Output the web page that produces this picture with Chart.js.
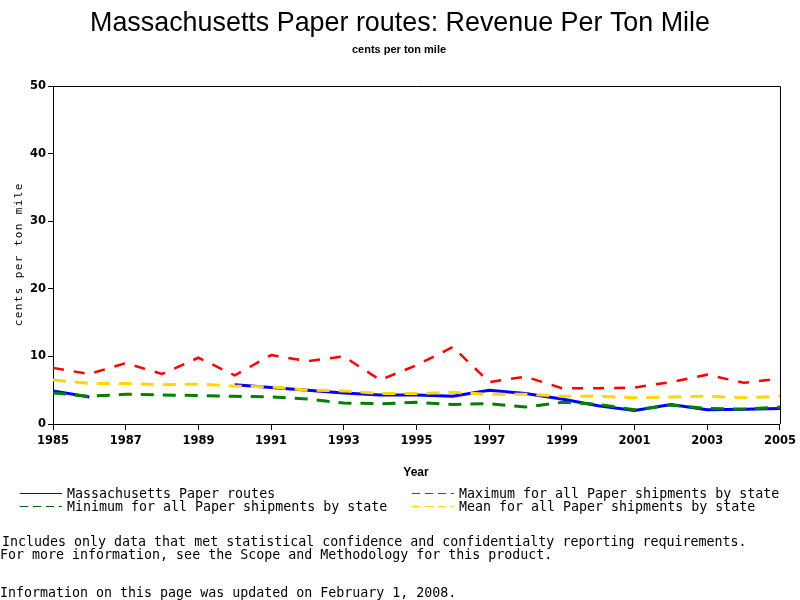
<!DOCTYPE html>
<html><head><meta charset="utf-8">
<script src="https://cdn.jsdelivr.net/npm/chart.js@4/dist/chart.umd.min.js"></script>
<style>html,body{margin:0;padding:0;background:#fff;}#wrap{width:800px;height:600px;position:relative;}</style>
</head><body><div id="wrap"><canvas id="c" width="800" height="600"></canvas></div>
<script>
const years = ['1985','1986','1987','1988','1989','1990','1991','1992','1993','1994','1995','1996','1997','1998','1999','2000','2001','2002','2003','2004','2005'];
const maRoutes = [4.9,4.0,null,null,null,5.8,5.4,5.0,4.6,4.3,4.3,4.1,5.0,4.5,3.7,2.7,2.0,2.9,2.1,2.2,2.3];
const maxState = [8.3,7.4,9.0,7.4,9.8,7.2,10.2,9.3,10.0,6.5,8.7,11.4,6.2,7.0,5.3,5.3,5.4,6.2,7.3,6.1,6.7];
const minState = [4.6,4.1,4.4,4.3,4.2,4.1,4.0,3.7,3.1,3.0,3.2,2.9,3.0,2.5,3.2,2.9,2.1,2.8,2.3,2.2,2.5];
const meanState = [6.5,6.0,6.0,5.8,5.9,5.6,5.5,5.0,4.9,4.5,4.5,4.7,4.4,4.4,4.1,4.1,3.9,4.0,4.1,3.9,4.1];
const yTicks = [0,10,20,30,40,50];

const mono = '"DejaVu Sans Mono", "Liberation Mono", monospace';
const tickFont = {family: '"DejaVu Sans", sans-serif', size: 11.5, weight: 'bold'};

const textPlugin = {
  id: 'texts',
  afterDraw(chart) {
    const ctx = chart.ctx;
    const a = chart.chartArea;
    ctx.save();
    ctx.strokeStyle = '#000'; ctx.lineWidth = 1;
    ctx.beginPath();
    ctx.moveTo(a.left, a.top + 0.5); ctx.lineTo(a.right + 0.5, a.top + 0.5); ctx.lineTo(a.right + 0.5, a.bottom);
    ctx.stroke();
    ctx.fillStyle = '#000';
    ctx.font = '28px "Liberation Sans", Arial, sans-serif';
    ctx.textBaseline = 'alphabetic';
    const t = 'Massachusetts Paper routes: Revenue Per Ton Mile';
    const w = ctx.measureText(t).width;
    const sx = 620 / w;
    ctx.save(); ctx.translate(400, 31); ctx.scale(sx, 1); ctx.textAlign = 'center'; ctx.fillText(t, 0, 0); ctx.restore();
    ctx.font = 'bold 11px "Liberation Sans", Arial, sans-serif';
    ctx.textAlign = 'center';
    ctx.fillText('cents per ton mile', 399, 53);
    ctx.font = 'bold 12px "Liberation Sans", Arial, sans-serif';
    ctx.fillText('Year', 416, 476);
    ctx.save();
    ctx.translate(22, 255); ctx.rotate(-Math.PI / 2);
    ctx.font = '11px ' + mono;
    const yt = 'cents per ton mile';
    const step = 8;
    let x0 = -((yt.length - 1) * step) / 2;
    for (let i = 0; i < yt.length; i++) { ctx.fillText(yt[i], x0 + i * step, 0); }
    ctx.restore();
    ctx.font = '13.3px ' + mono;
    ctx.textAlign = 'left'; ctx.textBaseline = 'middle';
    const items = [
      {x: 20, y: 494, color: '#0000FF', dash: [], label: 'Massachusetts Paper routes'},
      {x: 412, y: 494, color: '#FF0000', dash: [8, 5], label: 'Maximum for all Paper shipments by state'},
      {x: 20, y: 507, color: '#006400', dash: [8, 5], label: 'Minimum for all Paper shipments by state'},
      {x: 412, y: 507, color: '#FFD700', dash: [8, 5], label: 'Mean for all Paper shipments by state'}
    ];
    items.forEach(it => {
      ctx.save();
      ctx.strokeStyle = it.color; ctx.lineWidth = 1; ctx.setLineDash(it.dash);
      ctx.beginPath(); ctx.moveTo(it.x, it.y - 0.5); ctx.lineTo(it.x + 42, it.y - 0.5); ctx.stroke();
      ctx.restore();
      ctx.fillText(it.label, it.x + 47, it.y + 1);
    });
    ctx.fillText('Includes only data that met statistical confidence and confidentialty reporting requirements.', 2, 543);
    ctx.fillText('For more information, see the Scope and Methodology for this product.', 0, 556);
    ctx.fillText('Information on this page was updated on February 1, 2008.', 0, 594);
    ctx.restore();
  }
};

new Chart(document.getElementById('c'), {
  type: 'line',
  data: {
    labels: years,
    datasets: [
      {label: 'Minimum for all Paper shipments by state', data: minState, borderColor: '#008000', borderWidth: 3, borderDash: [13, 9], pointRadius: 0, tension: 0, spanGaps: false},
      {label: 'Mean for all Paper shipments by state', data: meanState, borderColor: '#FFD700', borderWidth: 3, borderDash: [13, 9], pointRadius: 0, tension: 0},
      {label: 'Maximum for all Paper shipments by state', data: maxState, borderColor: '#FF0000', borderWidth: 2.5, borderDash: [11, 10], pointRadius: 0, tension: 0},
      {label: 'Massachusetts Paper routes', data: maRoutes, borderColor: '#0000FF', borderWidth: 3, pointRadius: 0, tension: 0, spanGaps: false}
    ]
  },
  options: {
    responsive: false,
    animation: false,
    layout: {padding: {top: 86, left: 0, right: 20, bottom: 0}},
    plugins: {legend: {display: false}, tooltip: {enabled: false}, title: {display: false}},
    scales: {
      x: {
        type: 'category',
        offset: false,
        afterFit(s) { s.height = 176; },
        grid: {drawOnChartArea: false, drawTicks: true, tickLength: 6, color: '#000'},
        border: {display: true, color: '#000', width: 1},
        ticks: {
          autoSkip: false, maxRotation: 0, color: '#000', padding: 4, font: tickFont,
          callback(v, i) { return i % 2 === 0 ? years[i] : null; }
        }
      },
      y: {
        min: 0, max: 50,
        afterFit(s) { s.width = 53; },
        afterBuildTicks(s) { s.ticks = yTicks.map(v => ({value: v})); },
        grid: {drawOnChartArea: false, drawTicks: true, tickLength: 5, color: '#000'},
        border: {display: true, color: '#000', width: 1},
        ticks: {color: '#000', padding: 2, font: tickFont}
      }
    }
  },
  plugins: [textPlugin]
});
</script></body></html>
